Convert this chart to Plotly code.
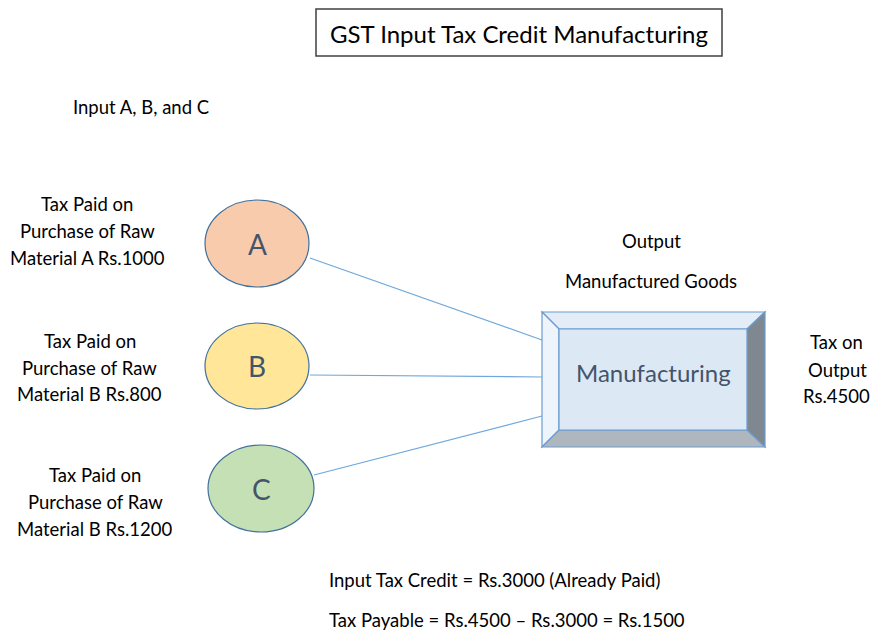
import plotly.graph_objects as go

# ---- data ----
inputs = ["A", "B", "C"]
materials = ["A", "B", "B"]
input_tax = [1000, 800, 1200]
output_tax = 4500
input_fill = ["#F8CBAD", "#FFE699", "#C5E0B4"]
title = "GST Input Tax Credit Manufacturing"

itc = sum(input_tax)
payable = output_tax - itc

W, H = 870, 632
FONT = "Lato, Open Sans, sans-serif"
BODY = 18.5
fig = go.Figure()
fig.add_trace(go.Scatter(x=[0, W], y=[0, H], mode="markers", marker=dict(opacity=0), hoverinfo="skip", showlegend=False))

shapes = []
ann = []

def text(x, y, s, size=BODY, xanchor="center", color="#000000"):
    ann.append(dict(x=x, y=y, text=s, showarrow=False, xanchor=xanchor, yanchor="middle",
                    font=dict(family=FONT, size=size, color=color)))

# title box
shapes.append(dict(type="rect", x0=316, y0=9, x1=722, y1=56, line=dict(color="#404040", width=1.5), fillcolor="white"))
text(519, 33, title, size=24)

text(71, 107, "Input A, B, and C", xanchor="left")

# circles
circ = [(205, 309, 200, 287), (205, 309, 323, 409), (208, 314, 445, 532)]
line_ends = [((310, 258), (542, 340)), ((310, 375), (542, 377)), ((314, 475), (542, 416))]
label_x = [87, 89.5, 95]
label_y = [(204, 231, 258), (341, 368, 394), (475, 502, 529)]
for i, name in enumerate(inputs):
    (a, b), (c, d) = line_ends[i]
    shapes.append(dict(type="line", x0=a, y0=b, x1=c, y1=d, line=dict(color="#6FA8DC", width=1.2)))
for i, name in enumerate(inputs):
    x0, x1, y0, y1 = circ[i]
    shapes.append(dict(type="circle", x0=x0, x1=x1, y0=y0, y1=y1, fillcolor=input_fill[i],
                       line=dict(color="#41719C", width=1.2)))
    text((x0 + x1) / 2, (y0 + y1) / 2, name, size=28, color="#44546A")
    lines = ["Tax Paid on", "Purchase of Raw", f"Material {materials[i]} Rs.{input_tax[i]}"]
    for yy, s in zip(label_y[i], lines):
        text(label_x[i], yy, s)

# bevel box
ox0, oy0, ox1, oy1 = 542, 312, 765, 447
ix0, iy0, ix1, iy1 = 559, 329, 747, 430
def poly(pts, fill):
    p = "M " + " L ".join(f"{x},{y}" for x, y in pts) + " Z"
    shapes.append(dict(type="path", path=p, fillcolor=fill, line=dict(color="#6A9BD1", width=1.2)))
poly([(ox0, oy0), (ox1, oy0), (ix1, iy0), (ix0, iy0)], "#E3ECF7")
poly([(ox0, oy0), (ix0, iy0), (ix0, iy1), (ox0, oy1)], "#EEF4FB")
poly([(ox1, oy0), (ox1, oy1), (ix1, iy1), (ix1, iy0)], "#7F8890")
poly([(ox0, oy1), (ox1, oy1), (ix1, iy1), (ix0, iy1)], "#AEB6BE")
shapes.append(dict(type="rect", x0=ix0, y0=iy0, x1=ix1, y1=iy1, fillcolor="#DDE8F5", line=dict(color="#6A9BD1", width=1.2)))
text(653, 372, "Manufacturing", size=24, color="#44546A")

text(651, 241, "Output")
text(651, 281, "Manufactured Goods")
text(836, 342, "Tax on")
text(837, 370, "Output")
text(836, 396, f"Rs.{output_tax}")

text(327, 580, f"Input Tax Credit = Rs.{itc} (Already Paid)", xanchor="left")
text(327, 620, f"Tax Payable = Rs.{output_tax} – Rs.{itc} = Rs.{payable}", xanchor="left")

fig.update_layout(
    width=W, height=H, margin=dict(l=0, r=0, t=0, b=0),
    paper_bgcolor="white", plot_bgcolor="white",
    xaxis=dict(range=[0, W], visible=False, fixedrange=True),
    yaxis=dict(range=[H, 0], visible=False, fixedrange=True),
    shapes=shapes, annotations=ann, showlegend=False,
)
fig.write_html("out.html", config={"displayModeBar": False},
               post_script="document.body.style.margin='0';document.body.style.overflow='hidden';")
